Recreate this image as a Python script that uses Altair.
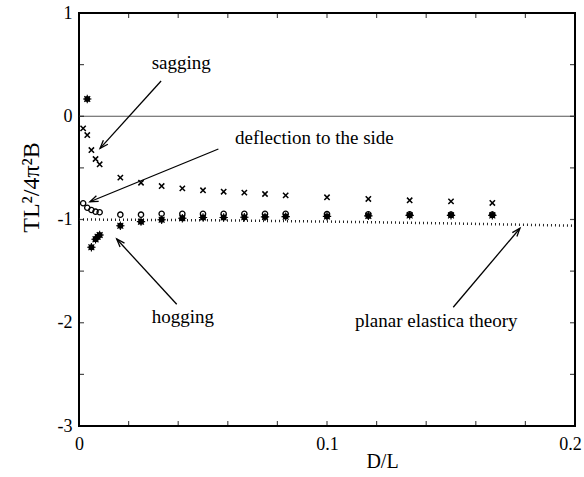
import math
import altair as alt
import pandas as pd

FONT = "Liberation Serif"

# ---------------- data ----------------
cross_x = [0.00167, 0.00333, 0.005, 0.00667, 0.00833, 0.01667, 0.025, 0.03333, 0.04167, 0.05,
           0.05833, 0.06667, 0.075, 0.08333, 0.1, 0.11667, 0.13333, 0.15, 0.16667]
cross_y = [-0.117, -0.182, -0.327, -0.414, -0.465, -0.595, -0.644, -0.676, -0.698, -0.717,
           -0.731, -0.740, -0.753, -0.766, -0.785, -0.801, -0.814, -0.824, -0.840]

circle_x = [0.00167, 0.00333, 0.005, 0.00667, 0.00833, 0.01667, 0.025, 0.03333, 0.04167, 0.05,
            0.05833, 0.06667, 0.075, 0.08333, 0.1, 0.11667, 0.13333, 0.15, 0.16667]
circle_y = [-0.843, -0.886, -0.908, -0.924, -0.930, -0.953, -0.953, -0.944, -0.944, -0.945,
            -0.945, -0.945, -0.945, -0.945, -0.948, -0.950, -0.950, -0.952, -0.952]

star_x = [0.00333, 0.005, 0.00667, 0.0075, 0.00833, 0.01667, 0.025, 0.03333, 0.04167, 0.05,
          0.05833, 0.06667, 0.075, 0.08333, 0.1, 0.11667, 0.13333, 0.15, 0.16667]
star_y = [0.167, -1.269, -1.192, -1.167, -1.150, -1.060, -1.021, -1.002, -0.988, -0.980,
          -0.980, -0.978, -0.975, -0.972, -0.970, -0.965, -0.960, -0.960, -0.960]

theory_x = [0.0, 0.05, 0.1, 0.15, 0.2]
theory_y = [-1.0, -1.007, -1.020, -1.038, -1.060]

ann_text = ["sagging", "deflection to the side", "hogging", "planar elastica theory"]
ann_x = [0.0293, 0.0629, 0.0293, 0.1113]
ann_y = [0.458, -0.272, -2.000, -2.038]

arrow_x0 = [0.0331, 0.0562, 0.0394, 0.1509]
arrow_y0 = [0.341, -0.317, -1.821, -1.850]
arrow_x1 = [0.0085, 0.0044, 0.0152, 0.1778]
arrow_y1 = [-0.311, -0.828, -1.189, -1.085]

x_tick_vals = [0.02, 0.04, 0.06, 0.08, 0.1, 0.12, 0.14, 0.16, 0.18]
y_tick_vals = [-2.5, -2, -1.5, -1, -0.5, 0, 0.5]

# ---------------- layout ----------------
W, H = 496, 413
XDOM, YDOM = [0, 0.2], [-3, 1]
XS = alt.Scale(domain=XDOM, nice=False, zero=False)
YS = alt.Scale(domain=YDOM, nice=False, zero=False)

x_axis = alt.Axis(values=[0, 0.1, 0.2], labelExpr="datum.value + ''", title="D/L",
                  domain=False, ticks=False, grid=False, labelFont=FONT, labelFontSize=18,
                  labelColor="black", labelPadding=9, labelFlush=False, labelOverlap=False,
                  labelOffset={"condition": {"test": "datum.value > 0.15", "value": -5}, "value": 0},
                  titleFont=FONT, titleFontSize=20, titleFontWeight="normal", titleColor="black",
                  titleX=303, titleY=41, titleBaseline="alphabetic", titleAlign="center")
y_axis = alt.Axis(values=[-3, -2, -1, 0, 1], labelExpr="datum.value + ''", title="TL²/4π²B",
                  domain=False, ticks=False, grid=False, labelFont=FONT, labelFontSize=18,
                  labelColor="black", labelPadding=7, labelFlush=False, labelOverlap=False,
                  titleFont=FONT, titleFontSize=24, titleFontWeight="normal", titleColor="black",
                  titleX=-41, titleY=174, titleAngle=270, titleBaseline="alphabetic",
                  titleAlign="center")


def X(f):
    return alt.X(f, type="quantitative", scale=XS, axis=x_axis, title="D/L")


def Y(f):
    return alt.Y(f, type="quantitative", scale=YS, axis=y_axis, title="TL²/4π²B")


cross_df = pd.DataFrame({"x": cross_x, "y": cross_y})
circle_df = pd.DataFrame({"x": circle_x, "y": circle_y})
star_df = pd.DataFrame({"x": star_x, "y": star_y})
theory_df = pd.DataFrame({"x": theory_x, "y": theory_y})
ann_df = pd.DataFrame({"x": ann_x, "y": ann_y, "t": ann_text})

sx, sy = W / (XDOM[1] - XDOM[0]), H / (YDOM[1] - YDOM[0])
angles = []
for a, b, c, d in zip(arrow_x0, arrow_y0, arrow_x1, arrow_y1):
    dx = (c - a) * sx
    dy = -(d - b) * sy
    angles.append(math.degrees(math.atan2(dx, -dy)) % 360)
arrow_df = pd.DataFrame({"x0": arrow_x0, "y0": arrow_y0, "x1": arrow_x1, "y1": arrow_y1, "ang": angles})

theory = alt.Chart(theory_df).mark_line(color="#222", strokeWidth=2.5, strokeDash=[1, 3]).encode(
    x=X("x"), y=Y("y"))

zero = alt.Chart(pd.DataFrame({"y": [0]})).mark_rule(color="#555", strokeWidth=1.2).encode(y=Y("y"))

stars = alt.Chart(star_df).mark_point(shape="circle", filled=True, size=36, color="black", opacity=1).encode(
    x=X("x"), y=Y("y"))
stars2 = alt.Chart(star_df).mark_point(
    shape="M-1,0L1,0M0,-1L0,1M-0.7,-0.7L0.7,0.7M-0.7,0.7L0.7,-0.7",
    filled=False, size=70, color="black", strokeWidth=1.1, opacity=1).encode(x=X("x"), y=Y("y"))

circles = alt.Chart(circle_df).mark_point(shape="circle", filled=False, size=28, color="black",
                                          strokeWidth=1.3, opacity=1).encode(x=X("x"), y=Y("y"))

crosses = alt.Chart(cross_df).mark_point(shape="M-1,-1L1,1M-1,1L1,-1", filled=False, size=28,
                                         color="black", strokeWidth=1.5, opacity=1).encode(
    x=X("x"), y=Y("y"))

arrows = alt.Chart(arrow_df).mark_rule(color="black", strokeWidth=1.3).encode(
    x=X("x0"), y=Y("y0"), x2="x1", y2="y1")
heads = alt.Chart(arrow_df).mark_point(shape="M-0.4,1.1L0,0L0.4,1.1", filled=False, size=225,
                                       color="black", strokeWidth=1.3, opacity=1).encode(
    x=X("x1"), y=Y("y1"), angle=alt.Angle("ang:Q", scale=None))

texts = alt.Chart(ann_df).mark_text(font=FONT, fontSize=19, align="left", baseline="alphabetic",
                                    color="black").encode(x=X("x"), y=Y("y"), text="t:N")

tick_x_df = pd.DataFrame({"v": x_tick_vals, "ylo": [YDOM[0]] * len(x_tick_vals),
                          "yhi": [YDOM[1]] * len(x_tick_vals)})
tick_y_df = pd.DataFrame({"v": y_tick_vals, "xlo": [XDOM[0]] * len(y_tick_vals),
                          "xhi": [XDOM[1]] * len(y_tick_vals)})
tb = alt.Chart(tick_x_df).mark_tick(orient="vertical", size=5, thickness=1.2, color="black",
                                    yOffset=-2.5).encode(x=X("v"), y=Y("ylo"))
tt = alt.Chart(tick_x_df).mark_tick(orient="vertical", size=5, thickness=1.2, color="black",
                                    yOffset=2.5).encode(x=X("v"), y=Y("yhi"))
tl = alt.Chart(tick_y_df).mark_tick(orient="horizontal", size=5, thickness=1.2, color="black",
                                    xOffset=2.5).encode(y=Y("v"), x=X("xlo"))
tr = alt.Chart(tick_y_df).mark_tick(orient="horizontal", size=5, thickness=1.2, color="black",
                                    xOffset=-2.5).encode(y=Y("v"), x=X("xhi"))

chart = alt.layer(theory, zero, stars, stars2, circles, crosses, arrows, heads, texts,
                  tb, tt, tl, tr).properties(
    width=W, height=H,
    autosize=alt.AutoSizeParams(type="none"),
    padding={"left": 79, "top": 13, "right": 9, "bottom": 51},
    background="white",
).configure_view(stroke="black", strokeWidth=2)

chart.save("out.html", embed_options={"renderer": "svg", "actions": False})
